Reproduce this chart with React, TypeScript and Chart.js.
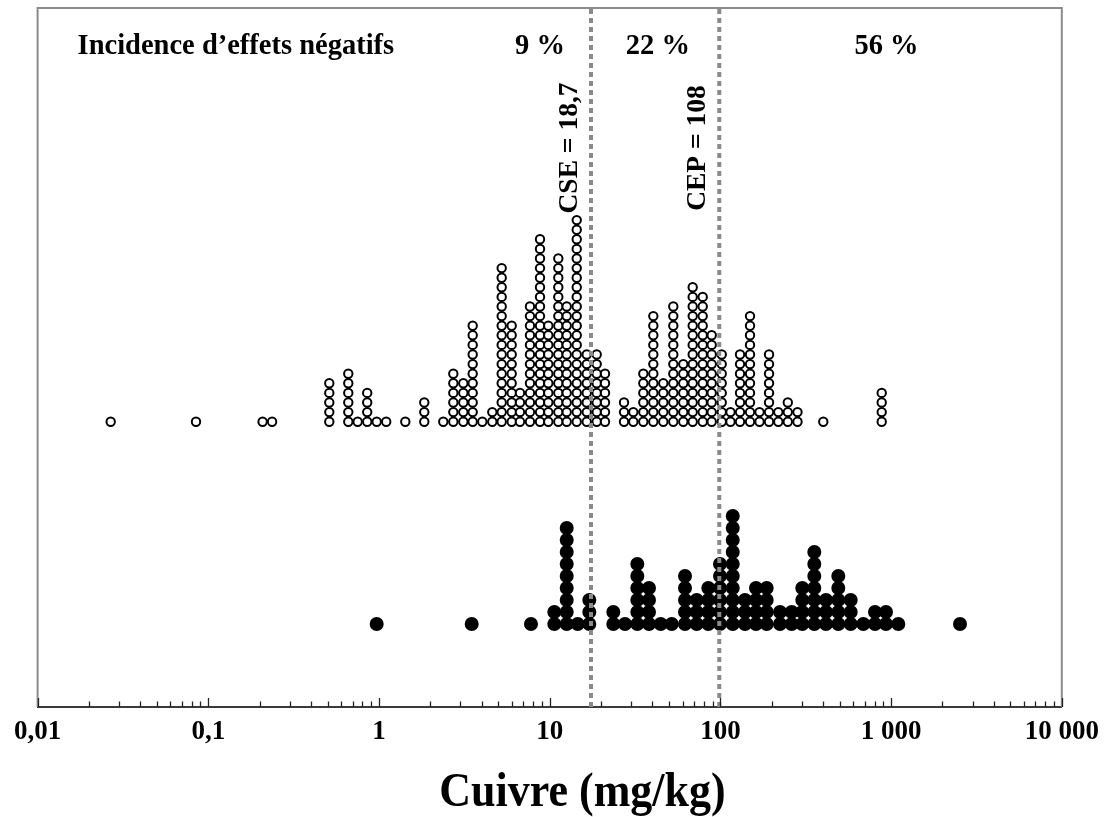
import React, { useEffect, useRef } from "react";
import { Chart, registerables } from "chart.js";

Chart.register(...registerables);

// Open circles (upper dot plot): column position (mg/kg) and number of stacked dots
const OPEN_X = [
  0.0268, 0.0847, 0.208, 0.2364, 0.5115, 0.6609, 0.75, 0.853, 0.9695, 1.102,
  1.426, 1.842, 2.38, 2.725, 3.118, 3.539, 4.029, 4.61, 5.233, 5.989,
  6.699, 7.664, 8.774, 9.813, 11.23, 12.58, 14.4, 16.48, 18.85, 21.09,
  27.25, 30.89, 35.35, 40.46, 46.29, 52.98, 60.63, 68.82, 78.76, 88.93,
  101.8, 114.6, 130.3, 149.1, 169.5, 192.7, 218.4, 248.2, 282.9, 400.6, 881,
];
const OPEN_N = [
  1, 1, 1, 1, 5, 6, 1, 4, 1, 1,
  1, 3, 1, 6, 5, 11, 1, 2, 17, 11,
  4, 13, 20, 11, 18, 13, 22, 8, 8, 6,
  3, 2, 6, 12, 5, 13, 7, 15, 14, 10,
  8, 2, 8, 12, 2, 8, 2, 3, 2, 1, 4,
];

// Filled circles (lower dot plot)
const FILLED_X = [
  0.969, 3.492, 7.77, 10.64, 12.58, 14.59, 17.06, 23.59, 27.61, 32.61,
  38.17, 44.7, 51.84, 62.03, 72.63, 84.95, 99.47, 118.1, 139.4, 161.6,
  186.7, 223.5, 261.6, 301.8, 354.9, 415.6, 490.6, 579.9, 687.3, 804.9,
  933.5, 1102, 2533,
];
const FILLED_N = [
  1, 1, 1, 2, 9, 1, 3, 2, 1, 6,
  4, 1, 1, 5, 3, 4, 6, 10, 3, 4,
  4, 2, 2, 4, 7, 3, 5, 3, 1, 2,
  2, 1, 1,
];

// Threshold lines (CSE, CEP) as placed in the picture
const LINE_X = [17.46, 98.5];
const LINE_LABELS = ["CSE = 18,7", "CEP = 108"];

// Incidence labels
const PCT_LABELS = ["9 %", "22 %", "56 %"];
const PCT_X = [8.77, 43, 940];

const TICK_VALUES = [0.01, 0.1, 1, 10, 100, 1000, 10000];
const TICK_LABELS = ["0,01", "0,1", "1", "10", "100", "1 000", "10 000"];

const HEADER = "Incidence d\u2019effets négatifs";
const X_TITLE = "Cuivre (mg/kg)";

const FONT = '"Liberation Serif", "Times New Roman", serif';

// layout constants
const W = 1104;
const HGT = 817;
const AREA_TOP = 8;
const AREA_BOTTOM = 707;
const AREA_LEFT = 37.6;
const AREA_RIGHT = 1061.8;
const AREA_H = AREA_BOTTOM - AREA_TOP;
const OPEN_BASE = 421.7;
const OPEN_STEP = 9.6;
const FILLED_BASE = 624;
const FILLED_STEP = 12;

function stack(xs: number[], ns: number[]) {
  const pts: { x: number; y: number }[] = [];
  xs.forEach((x, i) => {
    for (let k = 0; k < ns[i]; k++) pts.push({ x, y: k });
  });
  return pts;
}

const decorPlugin = {
  id: "decor",
  afterDraw(chart: any) {
    const { ctx, chartArea } = chart;
    const xs = chart.scales.x;
    const { left, right, top, bottom } = chartArea;
    ctx.save();
    // frame (left, top, right)
    ctx.strokeStyle = "#8c8c8c";
    ctx.lineWidth = 2;
    ctx.beginPath();
    ctx.moveTo(left, bottom);
    ctx.lineTo(left, top);
    ctx.lineTo(right, top);
    ctx.lineTo(right, bottom);
    ctx.stroke();

    // inward tick marks
    ctx.strokeStyle = "#222";
    ctx.lineWidth = 1.3;
    xs.ticks.forEach((t: any) => {
      const px = Math.round(xs.getPixelForValue(t.value)) + 0.5;
      const len = t.major ? 9 : 5.5;
      ctx.beginPath();
      ctx.moveTo(px, bottom);
      ctx.lineTo(px, bottom - len);
      ctx.stroke();
    });

    // texts
    ctx.fillStyle = "#000";
    ctx.font = `bold 28.5px ${FONT}`;
    ctx.textBaseline = "middle";
    ctx.textAlign = "left";
    ctx.fillText(HEADER, left + 40, top + 39);
    ctx.textAlign = "center";
    PCT_LABELS.forEach((s, i) => {
      ctx.fillText(s, xs.getPixelForValue(PCT_X[i]), top + 39);
    });
    ctx.font = `bold 27.5px ${FONT}`;
    LINE_LABELS.forEach((s, i) => {
      const px = xs.getPixelForValue(LINE_X[i]) - 21;
      ctx.save();
      ctx.translate(px, top + 140);
      ctx.rotate(-Math.PI / 2);
      ctx.textAlign = "center";
      ctx.textBaseline = "middle";
      ctx.fillText(s, 0, 0);
      ctx.restore();
    });

    // axis title
    ctx.font = `bold 44px ${FONT}`;
    ctx.textAlign = "center";
    ctx.textBaseline = "alphabetic";
    ctx.save();
    ctx.translate(left + (right - left) * 0.532, HGT - 11);
    ctx.scale(1, 1.1);
    ctx.fillText(X_TITLE, 0, 0);
    ctx.restore();
    ctx.restore();
  },
};

export default function App() {
  const ref = useRef<HTMLCanvasElement | null>(null);

  useEffect(() => {
    document.body.style.margin = "0";
    const canvas = ref.current;
    if (!canvas) return;

    const openMax = (OPEN_BASE - AREA_TOP) / OPEN_STEP;
    const openMin = openMax - AREA_H / OPEN_STEP;
    const filledMax = (FILLED_BASE - AREA_TOP) / FILLED_STEP;
    const filledMin = filledMax - AREA_H / FILLED_STEP;

    const lineSets = LINE_X.map((x) => ({
      type: "line" as const,
      data: [
        { x, y: 0 },
        { x, y: 1 },
      ],
      yAxisID: "yLine",
      borderColor: "#8a8a8a",
      borderWidth: 4,
      borderDash: [5, 4],
      pointRadius: 0,
      fill: false,
      order: 0,
    }));

    const chart = new Chart(canvas, {
      type: "scatter",
      data: {
        datasets: [
          ...lineSets,
          {
            type: "scatter",
            data: stack(OPEN_X, OPEN_N),
            yAxisID: "yOpen",
            pointRadius: 4.2,
            pointBorderWidth: 2,
            pointBackgroundColor: "#ffffff",
            pointBorderColor: "#000000",
            order: 2,
          },
          {
            type: "scatter",
            data: stack(FILLED_X, FILLED_N),
            yAxisID: "yFilled",
            pointRadius: 7,
            pointBorderWidth: 0,
            pointBackgroundColor: "#000000",
            pointBorderColor: "#000000",
            order: 2,
          },
        ] as any,
      },
      options: {
        animation: false,
        responsive: false,
        devicePixelRatio: 1,
        layout: {
          padding: {
            top: AREA_TOP,
            left: AREA_LEFT,
            right: W - AREA_RIGHT,
            bottom: 0,
          },
        },
        plugins: {
          legend: { display: false },
          tooltip: { enabled: false },
        },
        scales: {
          x: {
            type: "logarithmic",
            position: "bottom",
            min: 0.01,
            max: 10000,
            afterBuildTicks: (s: any) => {
              const t: any[] = [];
              for (let e = -2; e <= 4; e++) {
                for (let m = 1; m <= 9; m++) {
                  const v = m * Math.pow(10, e);
                  if (v <= 10000 * 1.0001) t.push({ value: v, major: m === 1 });
                }
              }
              s.ticks = t;
            },
            afterFit: (s: any) => {
              s.height = HGT - AREA_BOTTOM;
              s.paddingLeft = 0;
              s.paddingRight = 0;
            },
            grid: { display: false, drawTicks: false },
            border: { display: true, color: "#3a3a3a", width: 2 },
            ticks: {
              autoSkip: false,
              maxRotation: 0,
              minRotation: 0,
              padding: 9,
              color: "#000",
              font: { family: FONT, size: 27, weight: "bold" },
              callback: (v: any) => {
                const i = TICK_VALUES.findIndex(
                  (t) => Math.abs(Math.log10(t) - Math.log10(Number(v))) < 1e-6
                );
                return i >= 0 ? TICK_LABELS[i] : "";
              },
            },
          },
          yOpen: { type: "linear", display: false, min: openMin, max: openMax },
          yFilled: { type: "linear", display: false, min: filledMin, max: filledMax },
          yLine: { type: "linear", display: false, min: 0, max: 1 },
        },
      } as any,
      plugins: [decorPlugin],
    });

    return () => chart.destroy();
  }, []);

  return (
    <div style={{ position: "fixed", left: 0, top: 0, width: W, height: HGT, background: "#fff" }}>
      <canvas ref={ref} width={W} height={HGT} style={{ width: W, height: HGT, display: "block" }} />
    </div>
  );
}
